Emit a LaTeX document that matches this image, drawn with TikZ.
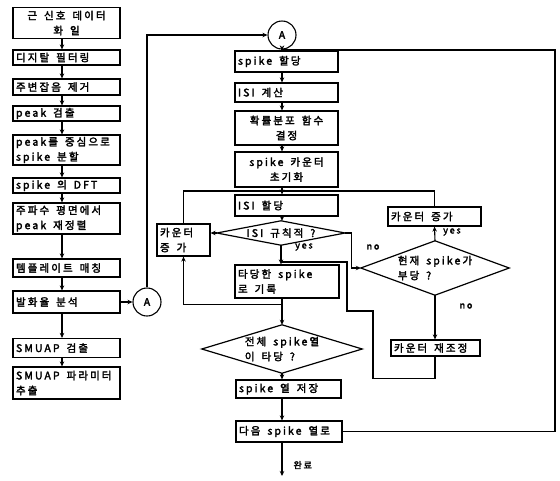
\documentclass[tikz,border=0pt]{standalone}
\usepackage{fontspec}
\newfontfamily\kr{Noto Sans CJK KR}[FakeBold=2.5,LetterSpace=20]
\usetikzlibrary{arrows.meta}
\newcommand\gap{\hspace{7pt}}
\begin{document}
\begin{tikzpicture}[x=1pt,y=-1pt,
  txt/.style={font=\kr\fontsize{10.5}{15}\selectfont},
  bx/.style={txt,draw,line width=1.2pt,inner xsep=3pt,inner ysep=0pt,align=left},
  cbx/.style={bx,align=center},
  dia/.style={txt,inner sep=0pt,align=left},
  circ/.style={txt,draw,circle,line width=1.1pt,minimum size=28pt,inner sep=0pt},
  ln/.style={line width=1.1pt},
  ar/.style={line width=1.1pt,-{Stealth[length=5pt,width=4.5pt]}},
  lab/.style={txt,font=\kr\fontsize{9}{10}\selectfont}]
\useasboundingbox (0,0) rectangle (560,480);
\fill[white] (0,0) rectangle (560,480);
% left column
\coordinate (lx) at (62,0);
\node[cbx,text width=101pt,minimum height=31pt] (L1) at (66.5,23) {근\gap 신호\gap 데이터\\화\gap 일};
\node[bx,text width=101pt,minimum height=15pt] (L2) at (66.5,57.5) {디지탈\gap 필터링};
\node[bx,text width=101pt,minimum height=16pt] (L3) at (66.5,87) {주변잡음\gap 제거};
\node[bx,text width=101pt,minimum height=15pt] (L4) at (66.5,113.5) {peak\gap 검출};
\node[bx,text width=101pt,minimum height=30pt] (L5) at (66.5,150) {peak를\gap 중심으로\\spike\gap 분할};
\node[bx,text width=101pt,minimum height=15pt] (L6) at (66.5,185.5) {spike\gap 의\gap DFT};
\node[bx,text width=101pt,minimum height=31pt] (L7) at (66.5,218.5) {주파수\gap 평면에서\\peak\gap 재정렬};
\node[bx,text width=101pt,minimum height=18pt] (L8) at (66.5,268) {템플레이트\gap 매칭};
\node[bx,text width=101pt,minimum height=22pt] (L9) at (66.5,302) {발화율\gap 분석};
\node[bx,text width=101pt,minimum height=19pt] (L10) at (66.5,348) {SMUAP\gap 검출};
\node[bx,text width=101pt,minimum height=32pt] (L11) at (66.5,383) {SMUAP\gap 파라미터\\추출};
\foreach \a/\b in {L1/L2,L2/L3,L3/L4,L4/L5,L5/L6,L6/L7,L7/L8,L8/L9,L9/L10,L10/L11}
  \draw[ar] (\a.south -| lx) -- (\b.north -| lx);
\node[circ] (A1) at (147,302) {A};
\draw[ar] (L9.east) -- (A1.west);
% center column
\coordinate (cx) at (282,0);
\node[circ] (A2) at (282,35) {A};
\draw[ar] (A1.north) |- (A2.west);
\node[bx,text width=97pt,minimum height=21pt] (C1) at (286.5,61.5) {spike\gap 할당};
\node[bx,text width=97pt,minimum height=19pt] (C2) at (286.5,92.5) {ISI\gap 계산};
\node[cbx,text width=97pt,minimum height=34pt] (C3) at (286.5,128) {확률분포\gap 함수\\결정};
\node[cbx,text width=97pt,minimum height=35pt] (C4) at (286.5,169.5) {spike\gap 카운터\\초기화};
\node[bx,text width=97pt,minimum height=21pt] (C5) at (286.5,205.5) {ISI\gap 할당};
\node[dia,minimum width=128pt,minimum height=24pt] (D1) at (281,233) {ISI\gap 규칙적\gap ?};
\draw[line width=1.2pt] (D1.west) -- (D1.north) -- (D1.east) -- (D1.south) -- cycle;
\node[bx,text width=98pt,minimum height=33pt] (C6) at (287,281.5) {타당한\gap spike\\로\gap 기록};
\node[dia,minimum width=160pt,minimum height=48pt] (D2) at (282,349) {전체\gap spike열\\이\gap 타당\gap ?};
\draw[line width=1.2pt] (D2.west) -- (D2.north) -- (D2.east) -- (D2.south) -- cycle;
\node[bx,text width=99pt,minimum height=18pt] (C7) at (288.5,389) {spike\gap 열\gap 저장};
\node[bx,text width=100pt,minimum height=21pt] (C8) at (289,431.5) {다음\gap spike\gap 열로};
\coordinate (E) at (282,476);
% side boxes
\node[bx,text width=47pt,minimum height=32pt] (K1) at (183.5,240) {카운터\\증\gap 가};
\node[bx,text width=87pt,minimum height=19pt] (K2) at (434.5,216.5) {카운터\gap 증가};
\node[dia,minimum width=148pt,minimum height=54pt] (D3) at (435,268) {현재\gap spike가\\부당\gap ?};
\draw[line width=1.2pt] (D3.west) -- (D3.north) -- (D3.east) -- (D3.south) -- cycle;
\node[bx,text width=83pt,minimum height=16pt] (K3) at (435.5,348) {카운터\gap 재조정};
% coordinates for routing
\coordinate (hy) at (0,191);
\coordinate (ry) at (0,262);
\coordinate (RX) at (555,50);
% main flow
\draw[ar] (A2.south) -- (C1.north -| A2);
\foreach \a/\b in {C1/C2,C2/C3,C3/C4,C4/C5,C5/D1}
  \draw[ar] (\a.south -| cx) -- (\b.north -| cx);
\draw[ar] (D1.south) -- (C6.north -| D1.south);
\draw[ar] (C6.south -| cx) -- (D2.north);
\draw[ar] (D2.south) -- (C7.north -| D2.south);
\draw[ar] (C7.south -| cx) -- (C8.north -| cx);
\draw[ar] (C8.south -| cx) -- (E);
\node[lab,anchor=west] at (290,465) {완료};
% loops
\draw[ln] (K1.north) |- (K2.north |- hy) -- (K2.north);
\draw[ar] (D1.west) -- (K1.east |- D1.west);
\draw[ar] (C6.south -| cx) ++(0,6) -| (K1.south);
\draw[ar] (D1.east) -- ++(6,0) |- (D3.west);
\draw[ar] (D3.north) -- (K2.south);
\draw[ar] (D3.south) -- (K3.north -| D3.south);
\draw[ln] (K3.south -| D3.south) -- ++(0,22) -| (373,311) -| (347,262) -- (cx |- ry);
\draw[ln] (C8.east) -| (RX) -- (cx |- RX);
% labels
\node[lab] at (304,247) {yes};
\node[lab] at (373,247) {no};
\node[lab] at (452,232) {yes};
\node[lab] at (466,306) {no};
\end{tikzpicture}
\end{document}
